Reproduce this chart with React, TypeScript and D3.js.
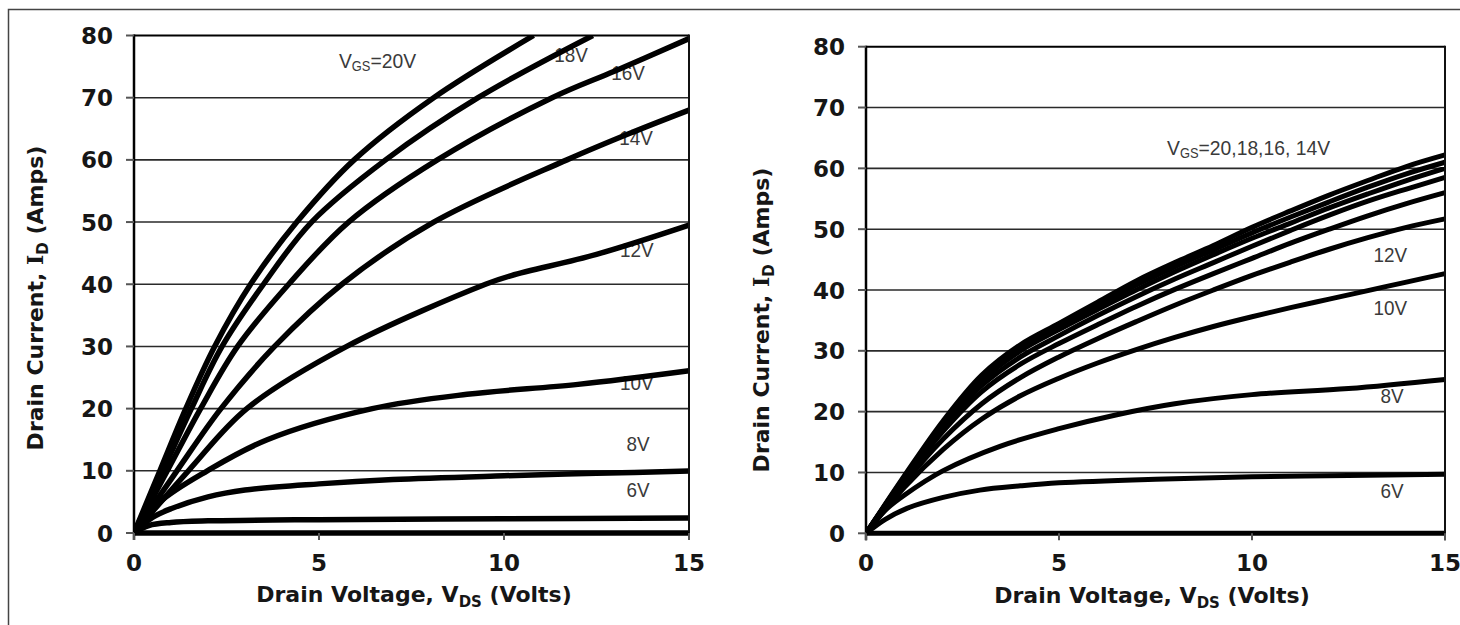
import React from "react";
import * as d3 from "d3";

type Pt = [number, number];

const xTicks = [0, 5, 10, 15];
const yTicks = [0, 10, 20, 30, 40, 50, 60, 70, 80];

// ---------- Left panel: I_D vs V_DS ----------
const left20V: Pt[] = [[0, 0], [0.7, 10], [1.4, 20], [2.18, 30], [3.15, 40], [4.4, 50], [5.95, 60], [8.1, 70], [10.8, 80]];
const left18V: Pt[] = [[0, 0], [0.78, 10], [1.55, 20], [2.38, 30], [3.5, 40], [4.8, 50], [6.8, 60], [9.3, 70], [12.4, 80]];
const left16V: Pt[] = [[0, 0], [0.9, 10], [1.8, 20], [2.8, 30], [4.18, 40], [5.8, 50], [8.2, 60], [11.3, 70], [13, 74.3], [15, 79.5]];
const left14V: Pt[] = [[0, 0], [1.16, 10], [2.35, 20], [3.8, 30], [5.62, 40], [8.1, 50], [11.7, 60], [13.5, 64.5], [15, 68]];
const left12V: Pt[] = [[0, 0], [1.47, 10], [3.05, 20], [5.75, 30], [9.5, 40], [10.2, 41.4], [12.5, 44.8], [15, 49.5]];
const left10V: Pt[] = [[0, 0], [0.7, 5], [1.98, 10], [3.6, 15], [6.44, 20], [9, 22.3], [12, 23.9], [15, 26.1]];
const left8V: Pt[] = [[0, 0], [0.5, 2.5], [1, 3.9], [2, 5.8], [3, 6.9], [5, 7.9], [7, 8.6], [10, 9.2], [12.5, 9.6], [15, 9.95]];
const left6V: Pt[] = [[0, 0], [0.4, 1.2], [1, 1.7], [2, 1.95], [5, 2.15], [10, 2.3], [15, 2.4]];
const left4V: Pt[] = [[0, 0], [15, 0]];
const leftCurves = [left20V, left18V, left16V, left14V, left12V, left10V, left8V, left6V, left4V];

const leftLabels = [
  { text: "18V", v: 11.81, i: 75.7 },
  { text: "16V", v: 13.35, i: 72.8 },
  { text: "14V", v: 13.57, i: 62.4 },
  { text: "12V", v: 13.59, i: 44.4 },
  { text: "10V", v: 13.59, i: 23.0 },
  { text: "8V", v: 13.62, i: 13.2 },
  { text: "6V", v: 13.62, i: 5.8 },
];
const leftVgsLabel = { main: "=20V", v: 5.54, i: 74.8 };

// ---------- Right panel ----------
const rightA: Pt[] = [[0, 0], [1, 9.5], [2, 18.5], [3, 26], [4, 31], [5, 34.5], [6, 38], [7, 41.5], [8, 44.5], [9, 47.3], [10, 50.3], [11, 53], [12, 55.6], [13, 58], [14, 60.3], [15, 62.2]];
const rightB: Pt[] = [[0, 0], [1, 9.3], [2, 18.2], [3, 25.6], [4, 30.5], [5, 34], [6, 37.4], [7, 40.8], [8, 43.8], [9, 46.6], [10, 49.4], [11, 52], [12, 54.5], [13, 56.9], [14, 59.1], [15, 61]];
const rightC: Pt[] = [[0, 0], [1, 9.2], [2, 17.9], [3, 25.1], [4, 30], [5, 33.5], [6, 36.8], [7, 40], [8, 43], [9, 45.8], [10, 48.5], [11, 51], [12, 53.5], [13, 55.8], [14, 58], [15, 60]];
const rightD: Pt[] = [[0, 0], [1, 9], [2, 17.4], [3, 24.3], [4, 29], [5, 32.5], [6, 35.8], [7, 38.9], [8, 41.8], [9, 44.5], [10, 47.2], [11, 49.8], [12, 52.3], [13, 54.6], [14, 56.6], [15, 58.5]];
const rightE: Pt[] = [[0, 0], [1, 8.8], [2, 16.8], [3, 23.3], [4, 27.8], [5, 31.2], [6, 34.3], [7, 37.3], [8, 40.1], [9, 42.7], [10, 45.2], [11, 47.7], [12, 50], [13, 52.2], [14, 54.2], [15, 56]];
const right12V: Pt[] = [[0, 0], [1, 8.3], [2, 15.5], [3, 21.3], [4, 25.6], [5, 29], [6, 32], [7, 34.8], [8, 37.5], [9, 40], [10, 42.4], [11, 44.6], [12, 46.7], [13, 48.6], [14, 50.3], [15, 51.7]];
const right10V: Pt[] = [[0, 0], [1, 7.6], [2, 13.8], [3, 18.8], [4, 22.6], [5, 25.5], [6, 28], [7, 30.2], [8, 32.2], [9, 34], [10, 35.6], [11, 37.1], [12, 38.5], [13, 39.9], [14, 41.3], [15, 42.7]];
const right8V: Pt[] = [[0, 0], [0.5, 3.8], [1, 6.3], [2, 10.3], [3.47, 14.3], [5, 17.2], [6.5, 19.5], [8, 21.3], [10, 22.8], [12.5, 23.8], [15, 25.3]];
const right6V: Pt[] = [[0, 0], [0.5, 2.3], [1.06, 4.1], [2, 5.9], [2.95, 7.1], [4, 7.8], [5, 8.3], [7.5, 8.9], [10, 9.3], [12.5, 9.5], [15, 9.7]];
const right4V: Pt[] = [[0, 0], [15, 0]];
const rightCurves = [rightA, rightB, rightC, rightD, rightE, right12V, right10V, right8V, right6V, right4V];

const rightLabels = [
  { text: "12V", v: 13.58, i: 44.6 },
  { text: "10V", v: 13.58, i: 35.9 },
  { text: "8V", v: 13.63, i: 21.4 },
  { text: "6V", v: 13.63, i: 5.8 },
];
const rightVgsLabel = { main: "=20,18,16, 14V", v: 7.8, i: 62.2 };

const BOLD = "'DejaVu Sans', Verdana, sans-serif";
const ARIAL = "'Liberation Sans', Arial, sans-serif";

type PanelProps = {
  id: string;
  x0: number; x1: number; yTop: number; y0: number;
  curves: Pt[][];
  labels: { text: string; v: number; i: number }[];
  vgs: { main: string; v: number; i: number };
  strokeW: number;
  xTitle: { x: number; y: number };
  yTitle: { x: number; y: number };
};

function Panel(p: PanelProps) {
  const x = d3.scaleLinear().domain([0, 15]).range([p.x0, p.x1]);
  const y = d3.scaleLinear().domain([0, 80]).range([p.y0, p.yTop]);
  const line = d3.line<Pt>().x((d) => x(d[0])).y((d) => y(d[1])).curve(d3.curveCatmullRom.alpha(0.5));
  return (
    <g>
      <defs>
        <clipPath id={p.id}>
          <rect x={p.x0} y={p.yTop} width={p.x1 - p.x0 + 1} height={p.y0 - p.yTop + 4} />
        </clipPath>
      </defs>
      {yTicks.filter((t) => t > 0 && t < 80).map((t) => (
        <line key={"g" + t} x1={p.x0} x2={p.x1} y1={y(t)} y2={y(t)} stroke="#2a2a2a" strokeWidth={1.6} />
      ))}
      {p.labels.map((l) => (
        <text key={l.text} transform={`translate(${x(l.v)},${y(l.i)}) scale(0.9,1)`} textAnchor="middle" fontFamily={ARIAL} fontSize={21} fill="#3a3a3a">
          {l.text}
        </text>
      ))}
      <text transform={`translate(${x(p.vgs.v)},${y(p.vgs.i)}) scale(0.92,1)`} fontFamily={ARIAL} fontSize={21} fill="#3a3a3a">
        V<tspan fontSize={14} dy={3}>GS</tspan><tspan dy={-3}>{p.vgs.main}</tspan>
      </text>
      <g clipPath={`url(#${p.id})`}>
        {p.curves.map((c, k) => (
          <path key={k} d={line(c) || ""} fill="none" stroke="#000" strokeWidth={p.strokeW} strokeLinejoin="round" />
        ))}
      </g>
      <line x1={p.x0} x2={p.x1} y1={p.yTop} y2={p.yTop} stroke="#000" strokeWidth={2} />
      <line x1={p.x1} x2={p.x1} y1={p.yTop - 1} y2={p.y0 + 7} stroke="#111" strokeWidth={2} />
      <line x1={p.x0} x2={p.x0} y1={p.yTop - 1} y2={p.y0 + 7} stroke="#000" strokeWidth={2.5} />
      <line x1={p.x0} x2={p.x1} y1={p.y0} y2={p.y0} stroke="#000" strokeWidth={2} />
      {yTicks.map((t) => (
        <g key={"y" + t}>
          <line x1={p.x0 - 8} x2={p.x0} y1={y(t)} y2={y(t)} stroke="#555" strokeWidth={2} />
          <text x={p.x0 - 21} y={y(t) + 8.5} textAnchor="end" fontFamily={BOLD} fontWeight="bold" fontSize={23} fill="#161616">
            {t}
          </text>
        </g>
      ))}
      {xTicks.map((t) => (
        <g key={"x" + t}>
          <line x1={x(t)} x2={x(t)} y1={p.y0} y2={p.y0 + 7} stroke="#555" strokeWidth={2} />
          <text x={x(t)} y={570.5} textAnchor="middle" fontFamily={BOLD} fontWeight="bold" fontSize={23} fill="#161616">
            {t}
          </text>
        </g>
      ))}
      <text x={p.xTitle.x} y={p.xTitle.y} textAnchor="middle" fontFamily={BOLD} fontWeight="bold" fontSize={22} fill="#161616">
        {"Drain Voltage, V"}
        <tspan fontSize={15} dy={5}>DS</tspan>
        <tspan dy={-5}>{" (Volts)"}</tspan>
      </text>
      <text
        transform={`translate(${p.yTitle.x},${p.yTitle.y}) rotate(-90)`}
        textAnchor="middle"
        fontFamily={BOLD}
        fontWeight="bold"
        fontSize={22}
        fill="#161616"
      >
        {"Drain Current, "}
        <tspan fontFamily="'DejaVu Serif', serif">I</tspan>
        <tspan fontSize={15} dy={5}>D</tspan>
        <tspan dy={-5}>{" (Amps)"}</tspan>
      </text>
    </g>
  );
}

export default function App() {
  return (
    <svg width={1460} height={625} style={{ position: "absolute", left: 0, top: 0, background: "#fff" }}>
      <rect x={0} y={0} width={1460} height={625} fill="#fff" />
      <rect x={8.5} y={9.5} width={1600} height={800} fill="none" stroke="#444" strokeWidth={1.5} />
      <Panel
        id="clipL"
        x0={134} x1={689} yTop={35.5} y0={533}
        curves={leftCurves}
        labels={leftLabels}
        vgs={leftVgsLabel}
        strokeW={5.5}
        xTitle={{ x: 414, y: 602 }}
        yTitle={{ x: 43, y: 298 }}
      />
      <Panel
        id="clipR"
        x0={866} x1={1445} yTop={46.7} y0={533.3}
        curves={rightCurves}
        labels={rightLabels}
        vgs={rightVgsLabel}
        strokeW={5}
        xTitle={{ x: 1152, y: 603 }}
        yTitle={{ x: 769, y: 320 }}
      />
    </svg>
  );
}
